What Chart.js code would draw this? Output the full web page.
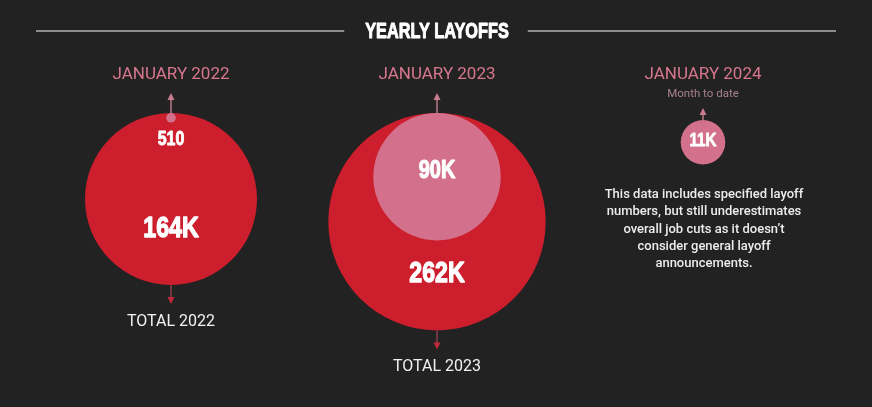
<!DOCTYPE html>
<html>
<head>
<meta charset="utf-8">
<script src="https://cdn.jsdelivr.net/npm/chart.js@4/dist/chart.umd.min.js"></script>
<style>
  html, body { margin: 0; padding: 0; background: #222222; }
  #wrap { width: 872px; height: 407px; position: relative; }
</style>
</head>
<body>
<div id="wrap"><canvas id="c"></canvas></div>
<script>
// ---------- DATA ----------
const titleText = 'YEARLY LAYOFFS';
const categories = ['JANUARY 2022', 'JANUARY 2023', 'JANUARY 2024'];
const categorySubtitles = ['', '', 'Month to date'];
const totalLabels = ['TOTAL 2022', 'TOTAL 2023', null];
const januaryLayoffs = [510, 90000, 11000];
const yearTotalLayoffs = [164000, 262000, null];
const januaryValueLabels = ['510', '90K', '11K'];
const totalValueLabels = ['164K', '262K', null];
const noteLines = [
  'This data includes specified layoff',
  'numbers, but still underestimates',
  'overall job cuts as it doesn\u2019t',
  'consider general layoff',
  'announcements.'
];

// ---------- STYLE / LAYOUT ----------
const RED = '#cc1e2c';
const PINK = '#d3718c';
const NUM_FONT = '"Liberation Sans", Arial, sans-serif';
const NUM_SQUEEZE = 0.8;      // horizontal condensing for the heavy numerals
const RADIUS_PER_SQRT = 86 / Math.sqrt(164000); // circle area proportional to value
const CIRCLE_TOP = 113;       // circles hang from a common top line
const SUBTITLE_SHIFT = 7;     // extra drop when a column has a subtitle
const LABEL_Y = 75;

function radiusFor(v) { return RADIUS_PER_SQRT * Math.sqrt(v); }
function bubblePoints(values) {
  const pts = [];
  values.forEach((v, i) => {
    if (v == null) return;
    const r = radiusFor(v);
    const top = CIRCLE_TOP + (categorySubtitles[i] ? SUBTITLE_SHIFT : 0);
    pts.push({ x: categories[i], y: top + r, r: r, cat: i });
  });
  return pts;
}

function arrow(ctx, x, y1, y2, lineColor, headColor) {
  const dir = y2 < y1 ? -1 : 1;
  ctx.strokeStyle = lineColor;
  ctx.lineWidth = 1.5;
  ctx.beginPath();
  ctx.moveTo(x, y1);
  ctx.lineTo(x, y2 - dir * 5);
  ctx.stroke();
  ctx.fillStyle = headColor;
  ctx.beginPath();
  ctx.moveTo(x, y2);
  ctx.lineTo(x - 3.5, y2 - dir * 7);
  ctx.lineTo(x + 3.5, y2 - dir * 7);
  ctx.closePath();
  ctx.fill();
}

function squeezedText(ctx, text, x, y, size, squeeze) {
  ctx.save();
  ctx.font = 'bold ' + size + 'px ' + NUM_FONT;
  ctx.translate(x, y);
  ctx.scale(squeeze, 1);
  ctx.strokeStyle = ctx.fillStyle;
  ctx.lineWidth = size * 0.045;
  ctx.lineJoin = 'round';
  ctx.strokeText(text, 0, 0);
  ctx.fillText(text, 0, 0);
  const w = ctx.measureText(text).width * squeeze;
  ctx.restore();
  return w;
}

const decor = {
  id: 'decor',
  beforeDraw(chart) {
    const ctx = chart.ctx;
    ctx.save();
    ctx.fillStyle = '#222222';
    ctx.fillRect(0, 0, chart.width, chart.height);
    ctx.restore();
  },
  afterDatasetsDraw(chart) {
    const ctx = chart.ctx;
    const xs = chart.scales.x;
    const W = chart.width;
    ctx.save();
    ctx.textAlign = 'center';
    ctx.textBaseline = 'middle';

    // title with side rules
    ctx.fillStyle = '#ffffff';
    const tw = squeezedText(ctx, titleText, W / 2 + 1, 32, 22, 0.74);
    ctx.strokeStyle = '#8e8e8e';
    ctx.lineWidth = 2;
    ctx.beginPath();
    ctx.moveTo(36, 31); ctx.lineTo(W / 2 - tw / 2 - 20, 31);
    ctx.moveTo(W / 2 + tw / 2 + 20, 31); ctx.lineTo(W - 36, 31);
    ctx.stroke();

    // collect circle geometry per category
    const jan = {}, tot = {};
    [[0, jan], [1, tot]].forEach(([di, store]) => {
      const meta = chart.getDatasetMeta(di);
      meta.data.forEach((el, j) => {
        const raw = chart.data.datasets[di].data[j];
        store[raw.cat] = { x: el.x, y: el.y, r: raw.r };
      });
    });

    categories.forEach((cat, i) => {
      const cx = xs.getPixelForValue(i);
      ctx.textAlign = 'center';
      ctx.textBaseline = 'middle';
      ctx.fillStyle = '#d8768f';
      ctx.font = '17px Roboto';
      ctx.fillText(cat, cx, LABEL_Y);
      let arrowTip = LABEL_Y + 18;
      if (categorySubtitles[i]) {
        ctx.fillStyle = '#a7808f';
        ctx.font = '11.5px Roboto';
        ctx.fillText(categorySubtitles[i], cx, LABEL_Y + 19);
        arrowTip = LABEL_Y + 33;
      }
      let top = Infinity;
      if (jan[i]) top = Math.min(top, jan[i].y - jan[i].r);
      if (tot[i]) top = Math.min(top, tot[i].y - tot[i].r);
      arrow(ctx, cx, top, arrowTip, '#b9788a', '#c97c90');

      if (tot[i]) {
        const bottom = tot[i].y + tot[i].r;
        arrow(ctx, cx, bottom, bottom + 19, '#8d3f4c', '#c3283a');
        ctx.fillStyle = '#f2f2f2';
        ctx.font = '16px Roboto';
        ctx.fillText(totalLabels[i], cx, bottom + 37);
        ctx.fillStyle = '#ffffff';
        squeezedText(ctx, totalValueLabels[i], cx, bottom - 56, 29, NUM_SQUEEZE);
      }
      if (jan[i]) {
        ctx.fillStyle = '#ffffff';
        if (jan[i].r < 12) {
          squeezedText(ctx, januaryValueLabels[i], cx, jan[i].y + jan[i].r + 17, 20, NUM_SQUEEZE);
        } else {
          const fs = jan[i].r > 40 ? 25 : 19;
          squeezedText(ctx, januaryValueLabels[i], cx, jan[i].y - 0.09 * jan[i].r, fs, NUM_SQUEEZE);
        }
      }
    });

    // note paragraph under the last column
    const nx = xs.getPixelForValue(2);
    ctx.fillStyle = '#ececec';
    ctx.font = '500 13px Roboto';
    ctx.textAlign = 'center';
    ctx.textBaseline = 'middle';
    noteLines.forEach((line, k) => ctx.fillText(line, nx + 1, 195 + k * 17.2));

    ctx.restore();
  }
};

new Chart(document.getElementById('c'), {
  type: 'bubble',
  data: {
    labels: categories,
    datasets: [
      {
        label: 'January layoffs',
        data: bubblePoints(januaryLayoffs),
        backgroundColor: PINK,
        borderWidth: 0,
        hoverBorderWidth: 0,
        order: 1,
        clip: false
      },
      {
        label: 'Year total layoffs',
        data: bubblePoints(yearTotalLayoffs),
        backgroundColor: RED,
        borderWidth: 0,
        hoverBorderWidth: 0,
        order: 2,
        clip: false
      }
    ]
  },
  options: {
    responsive: true,
    maintainAspectRatio: false,
    animation: false,
    events: [],
    layout: { autoPadding: false, padding: { left: 38, right: 36, top: 0, bottom: 0 } },
    plugins: { legend: { display: false }, title: { display: false }, tooltip: { enabled: false } },
    scales: {
      x: { type: 'category', labels: categories, offset: true, display: false },
      y: { type: 'linear', reverse: true, min: 0, max: 407, display: false }
    }
  },
  plugins: [decor]
});
</script>
</body>
</html>
